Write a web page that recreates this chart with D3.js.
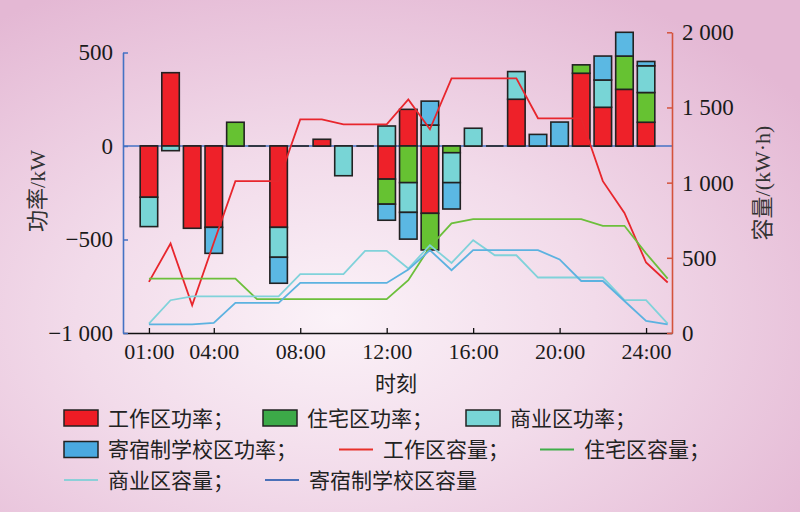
<!DOCTYPE html>
<html><head><meta charset="utf-8">
<script src="https://cdn.jsdelivr.net/npm/d3@7"></script>
<style>html,body{margin:0;padding:0;background:#fff;}svg{display:block;}</style>
</head><body>
<svg id="c" width="800" height="512"></svg>
<script>
// ---------- data ----------
const hours = d3.range(1, 25);               // bar hours 1..24
const lineHours = d3.range(1, 26);           // capacity points 1..25
const xTickValues = [1, 4, 8, 12, 16, 20, 24];
const xTickLabels = ["01:00", "04:00", "08:00", "12:00", "16:00", "20:00", "24:00"];
const leftTicks = [-1000, -500, 0, 500];
const rightTicks = [0, 500, 1000, 1500, 2000];

const workPower  = [-274, 392, -440, -435, 0, 0, -435, 0, 36, 0, 0, -177, 196, -360, 0, 0, 0, 250, 0, 0, 389, 207, 303, 127];
const resPower   = [0, 0, 0, 0, 127, 0, 0, 0, 0, 0, 0, -134, -196, -196, -36, 0, 0, 0, 0, 0, 45, 0, 178, 159];
const comPower   = [-157, -25, 0, 0, 0, 0, -160, 0, 0, -159, 0, 107, -159, 112, -160, 95, 0, 148, 0, 0, 0, 146, 0, 143];
const schPower   = [0, 0, 0, -139, 0, 0, -139, 0, 0, 0, 0, -86, -143, 128, -141, 0, 0, 0, 62, 128, 0, 128, 127, 23];

const workCap = [340, 595, 184, 600, 1010, 1010, 1010, 1421, 1421, 1388, 1388, 1388, 1554, 1355, 1694, 1694, 1694, 1694, 1428, 1428, 1428, 1010, 799, 469, 336];
const resCap  = [362, 362, 362, 362, 362, 225, 225, 225, 225, 225, 225, 225, 351, 573, 729, 757, 757, 757, 757, 757, 757, 713, 713, 530, 362];
const comCap  = [62, 218, 244, 244, 244, 244, 244, 391, 391, 391, 546, 546, 429, 584, 466, 617, 517, 517, 369, 369, 369, 369, 218, 218, 62];
const schCap  = [58, 58, 58, 67, 200, 200, 200, 333, 333, 333, 333, 333, 422, 551, 418, 551, 551, 551, 551, 489, 346, 346, 213, 80, 58];

const powerKeys = ["work", "res", "com", "sch"];
const powerNames = ["工作区功率；", "住宅区功率；", "商业区功率；", "寄宿制学校区功率；"];
const capNames = ["工作区容量；", "住宅区容量；", "商业区容量；", "寄宿制学校区容量"];

// ---------- styles ----------
const barColors = {work: "#ee2129", res: "#66c232", com: "#78d5d6", sch: "#5bb8e3"};
const capColors = ["#e8262d", "#6cbf3b", "#80d2da", "#5cb2e0"];
const legendBoxColors = ["#ee1c25", "#3caa48", "#78d5d6", "#4aa9e0"];
const legendLineColors = ["#e8302a", "#3fae49", "#8ccfd8", "#4a70b8"];
const serif = "'Liberation Serif','Noto Sans CJK SC',serif";

const svg = d3.select("#c");
const defs = svg.append("defs");
const grad = defs.append("radialGradient").attr("id", "bg")
  .attr("cx", "42%").attr("cy", "62%").attr("r", "72%");
grad.append("stop").attr("offset", "0%").attr("stop-color", "#fbf2f8");
grad.append("stop").attr("offset", "45%").attr("stop-color", "#f2dbea");
grad.append("stop").attr("offset", "100%").attr("stop-color", "#e4b8d4");
svg.append("rect").attr("width", 800).attr("height", 512).attr("fill", "url(#bg)");

// ---------- scales ----------
const x = d3.scaleLinear().domain([-0.2, 25.2]).range([123, 672]);
const yL = d3.scaleLinear().domain([-1000, 500]).range([333, 52.5]);
const yR = d3.scaleLinear().domain([0, 2000]).range([333, 32.3]);
const barW = 17.5;

const fmt = v => d3.format(",")(v).replace(/,/g, " ").replace("-", "−");

// zero line
svg.append("line").attr("x1", x.range()[0]).attr("x2", x.range()[1])
  .attr("y1", yL(0)).attr("y2", yL(0)).attr("stroke", "#4472c4").attr("stroke-width", 1.5);

// ---------- bars ----------
const rows = hours.map((h, i) => ({hour: h, work: workPower[i], res: resPower[i], com: comPower[i], sch: schPower[i]}));
const series = d3.stack().keys(powerKeys).offset(d3.stackOffsetDiverging)(rows);
// zero-value marks
svg.append("g").selectAll("line").data(rows).join("line")
  .attr("x1", d => x(d.hour) - barW / 2).attr("x2", d => x(d.hour) + barW / 2)
  .attr("y1", yL(0)).attr("y2", yL(0)).attr("stroke", "#222").attr("stroke-width", 1.6);
svg.append("g").selectAll("g").data(series).join("g")
  .attr("fill", d => barColors[d.key])
  .selectAll("rect").data(d => d.filter(p => p[1] !== p[0])).join("rect")
  .attr("x", d => x(d.data.hour) - barW / 2)
  .attr("width", barW)
  .attr("y", d => yL(Math.max(d[0], d[1])))
  .attr("height", d => Math.abs(yL(d[0]) - yL(d[1])))
  .attr("stroke", "#222").attr("stroke-width", 1.6);

// ---------- capacity lines ----------
const caps = [workCap, resCap, comCap, schCap];
const line = d3.line().x((d, i) => x(lineHours[i])).y(d => yR(d));
svg.append("g").selectAll("path").data(caps).join("path")
  .attr("d", d => line(d)).attr("fill", "none")
  .attr("stroke", (d, i) => capColors[i]).attr("stroke-width", 1.8)
  .attr("stroke-linejoin", "miter");

// ---------- axes ----------
const gx = svg.append("g").attr("transform", `translate(0,333)`)
  .call(d3.axisBottom(x).tickValues(xTickValues).tickFormat((d, i) => xTickLabels[i]).tickSizeInner(-5).tickSizeOuter(0).tickPadding(10));
gx.select(".domain").attr("stroke", "#111").attr("stroke-width", 1.5);
gx.selectAll(".tick line").attr("stroke", "#111").attr("stroke-width", 1.3);
gx.selectAll("text").attr("font-family", serif).attr("font-size", 22).attr("fill", "#1a1a1a");

const gl = svg.append("g").attr("transform", `translate(123,0)`)
  .call(d3.axisLeft(yL).tickValues(leftTicks).tickFormat(fmt).tickSizeInner(-5).tickSizeOuter(0).tickPadding(10));
gl.select(".domain").attr("stroke", "#4472c4").attr("stroke-width", 1.6);
gl.selectAll(".tick line").attr("stroke", "#4472c4").attr("stroke-width", 1.5);
gl.selectAll("text").attr("font-family", serif).attr("font-size", 23).attr("fill", "#1a1a1a");

const gr = svg.append("g").attr("transform", `translate(672,0)`)
  .call(d3.axisRight(yR).tickValues(rightTicks).tickFormat(fmt).tickSizeInner(-5).tickSizeOuter(0).tickPadding(10));
gr.select(".domain").attr("stroke", "#d4533c").attr("stroke-width", 1.6);
gr.selectAll(".tick line").attr("stroke", "#d4533c").attr("stroke-width", 1.5);
gr.selectAll("text").attr("font-family", serif).attr("font-size", 23).attr("fill", "#1a1a1a");

// axis titles
svg.append("text").attr("transform", "translate(45,191) rotate(-90)")
  .attr("text-anchor", "middle").attr("font-family", serif).attr("font-size", 22).attr("fill", "#333")
  .text("功率/kW");
svg.append("text").attr("transform", "translate(770,183) rotate(-90)")
  .attr("text-anchor", "middle").attr("font-family", serif).attr("font-size", 22).attr("fill", "#333")
  .text("容量/(kW·h)");
svg.append("text").attr("x", 396).attr("y", 391)
  .attr("text-anchor", "middle").attr("font-family", serif).attr("font-size", 21).attr("fill", "#222")
  .text("时刻");

// ---------- legend ----------
const leg = svg.append("g").attr("font-family", serif).attr("font-size", 21).attr("fill", "#222");
const boxItems = [
  {x: 64, y: 418, i: 0}, {x: 263, y: 418, i: 1}, {x: 466, y: 418, i: 2}, {x: 64, y: 449.5, i: 3}
];
boxItems.forEach(b => {
  leg.append("rect").attr("x", b.x).attr("y", b.y - 8).attr("width", 34).attr("height", 16)
    .attr("fill", legendBoxColors[b.i]).attr("stroke", "#222").attr("stroke-width", 1.5);
  leg.append("text").attr("x", b.x + 44).attr("y", b.y + 7.5).text(powerNames[b.i]);
});
const lineItems = [
  {x: 339, y: 449.5, i: 0}, {x: 540, y: 449.5, i: 1}, {x: 64, y: 480, i: 2}, {x: 265, y: 480, i: 3}
];
lineItems.forEach(b => {
  leg.append("line").attr("x1", b.x).attr("x2", b.x + 34).attr("y1", b.y).attr("y2", b.y)
    .attr("stroke", legendLineColors[b.i]).attr("stroke-width", 2);
  leg.append("text").attr("x", b.x + 44).attr("y", b.y + 7.5).text(capNames[b.i]);
});
</script>
</body></html>
